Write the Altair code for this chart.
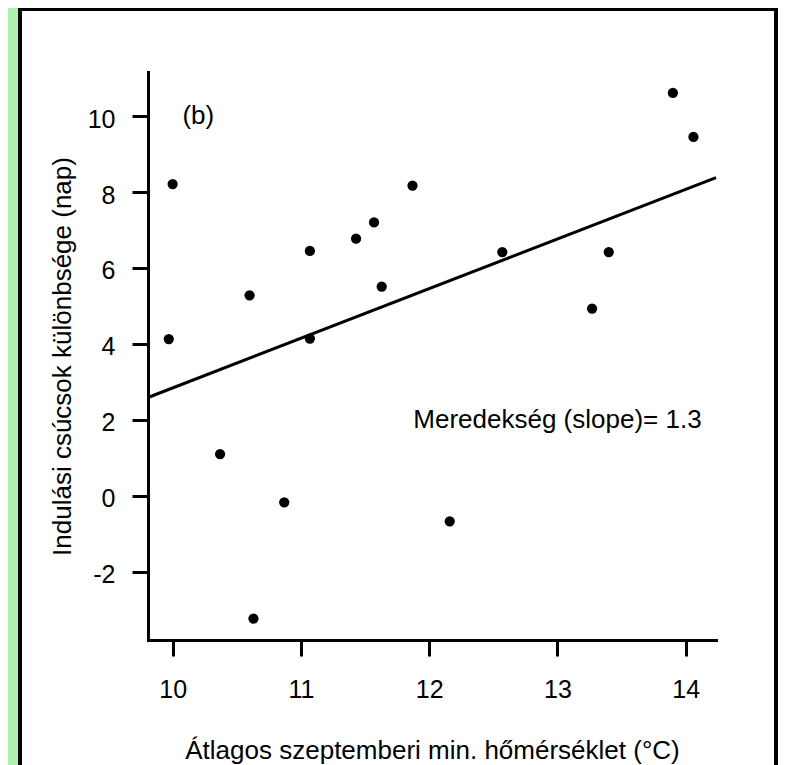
import altair as alt
import pandas as pd

# Data
temp = [9.97, 10.00, 10.60, 11.07, 11.07, 11.43, 11.57, 11.63, 11.87,
        12.57, 13.27, 13.40, 13.90, 14.06, 10.37, 10.87, 10.63, 12.16]
diff = [4.13, 8.21, 5.28, 6.45, 4.14, 6.77, 7.20, 5.51, 8.17,
        6.42, 4.93, 6.42, 10.61, 9.45, 1.10, -0.17, -3.23, -0.67]

# regression line end points (spans the plot region, as abline in R)
line_x = [9.808, 14.236]
line_y = [2.59, 8.38]

x_ticks = [10, 11, 12, 13, 14]
y_ticks = [-2, 0, 2, 4, 6, 8, 10]
x_domain = [9.808, 14.236]
y_domain = [-3.795, 11.16]

labels = ["(b)", "Meredekség (slope)= 1.3"]
label_x = [10.2, 13.0]
label_y = [10.0, 2.0]

FONT = "Liberation Sans"
FS = 26
W, H = 568, 568

pts = pd.DataFrame({"t": temp, "d": diff})
ln = pd.DataFrame({"t": line_x, "d": line_y})
lab = pd.DataFrame({"t": label_x, "d": label_y, "txt": labels})

xscale = alt.Scale(domain=x_domain, nice=False, zero=False)
yscale = alt.Scale(domain=y_domain, nice=False, zero=False)

common_axis = dict(
    grid=False, domainColor="black", domainWidth=3, domainCap="square",
    tickColor="black", tickWidth=3, tickSize=16,
    labelFont=FONT, labelFontSize=25, labelColor="black",
    labelExpr="'' + datum.value",
    titleFont=FONT, titleFontSize=FS, titleFontWeight="normal", titleColor="black",
    zindex=1,
)

x_axis = alt.Axis(values=x_ticks, title="Átlagos szeptemberi min. hőmérséklet (°C)",
                  labelPadding=21, titleX=W / 2, titleY=118, titleAlign="center",
                  titleBaseline="alphabetic", **common_axis)
y_axis = alt.Axis(values=y_ticks, title="Indulási csúcsok különbsége (nap)",
                  labelPadding=17, labelOffset=3, titleX=-78, titleY=H / 2,
                  titleAngle=270, titleAlign="center", titleBaseline="alphabetic",
                  **common_axis)

frame = alt.Chart(alt.Data(values=[{}])).mark_rect(
    fill="white", stroke="black", strokeWidth=4
).encode(
    x=alt.value(-128), x2=alt.value(628),
    y=alt.value(-63), y2=alt.value(720),
)

line = alt.Chart(ln).mark_line(color="black", strokeWidth=3).encode(
    x=alt.X("t:Q", scale=xscale, axis=x_axis),
    y=alt.Y("d:Q", scale=yscale, axis=y_axis),
)

points = alt.Chart(pts).mark_circle(color="black", opacity=1, size=105).encode(
    x=alt.X("t:Q", scale=xscale),
    y=alt.Y("d:Q", scale=yscale),
)

texts = alt.Chart(lab).mark_text(
    font=FONT, fontSize=FS, color="black", align="center", baseline="middle"
).encode(
    x=alt.X("t:Q", scale=xscale),
    y=alt.Y("d:Q", scale=yscale),
    text="txt:N",
)

chart = alt.layer(frame, line, points, texts).properties(
    width=W, height=H,
    autosize=alt.AutoSizeParams(type="none"),
    padding={"left": 140, "top": 64, "right": 62, "bottom": 125},
    background="#b0f0b0",
).configure_view(stroke=None)

chart.save("out.html", embed_options={"renderer": "svg", "actions": False})
